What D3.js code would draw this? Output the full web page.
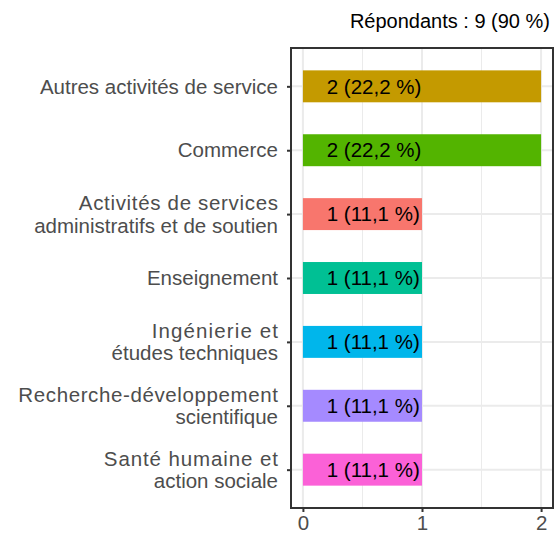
<!DOCTYPE html>
<html>
<head>
<meta charset="utf-8">
<script src="https://cdn.jsdelivr.net/npm/d3@7"></script>
<style>
  body { margin: 0; background: #fff; }
  text { font-family: "Liberation Sans", Arial, sans-serif; }
</style>
</head>
<body>
<script>
const categories = [
  "Autres activités de service",
  "Commerce",
  "Activités de services administratifs et de soutien",
  "Enseignement",
  "Ingénierie et études techniques",
  "Recherche-développement scientifique",
  "Santé humaine et action sociale"
];
const labelLines = [
  ["Autres activités de service"],
  ["Commerce"],
  ["Activités de services", "administratifs et de soutien"],
  ["Enseignement"],
  ["Ingénierie et", "études techniques"],
  ["Recherche-développement", "scientifique"],
  ["Santé humaine et", "action sociale"]
];
const counts = [2, 2, 1, 1, 1, 1, 1];
const percents = ["22,2", "22,2", "11,1", "11,1", "11,1", "11,1", "11,1"];
const colors = ["#C49A00", "#53B400", "#F8766D", "#00C094", "#00B6EB", "#A58AFF", "#FB61D7"];
const xTicks = [0, 1, 2];
const subtitle = "Répondants : 9 (90 %)";

const width = 555, height = 540;
const margin = {top: 48, left: 291, right: 2, bottom: 32};
const pw = width - margin.left - margin.right;
const ph = height - margin.top - margin.bottom;

const svg = d3.select("body").append("svg")
  .attr("width", width).attr("height", height);

const x = d3.scaleLinear().domain([-0.1, 2.1]).range([0, pw]);
const y = d3.scalePoint().domain(categories).range([0, ph]).padding(0.6);
const bandH = y.step() * 0.5;

const g = svg.append("g").attr("transform", `translate(${margin.left},${margin.top})`);

// grid
g.selectAll(".minor").data([0.5, 1.5]).enter().append("line")
  .attr("x1", d => x(d)).attr("x2", d => x(d)).attr("y1", 0).attr("y2", ph)
  .attr("stroke", "#ebebeb").attr("stroke-width", 1);
g.selectAll(".major").data(xTicks).enter().append("line")
  .attr("x1", d => x(d)).attr("x2", d => x(d)).attr("y1", 0).attr("y2", ph)
  .attr("stroke", "#ebebeb").attr("stroke-width", 2);
g.selectAll(".hgrid").data(categories).enter().append("line")
  .attr("x1", 0).attr("x2", pw).attr("y1", d => y(d)).attr("y2", d => y(d))
  .attr("stroke", "#ebebeb").attr("stroke-width", 2);

// bars
g.selectAll(".bar").data(categories).enter().append("rect")
  .attr("x", x(0))
  .attr("y", d => y(d) - bandH / 2)
  .attr("width", (d, i) => x(counts[i]) - x(0))
  .attr("height", bandH)
  .attr("fill", (d, i) => colors[i]);

g.selectAll(".blabel").data(categories).enter().append("text")
  .attr("x", x(0.2))
  .attr("y", d => y(d))
  .attr("dy", "0.35em")
  .attr("font-size", 20.5)
  .attr("fill", "#000")
  .text((d, i) => `${counts[i]} (${percents[i]} %)`);

// border
g.append("rect").attr("width", pw).attr("height", ph)
  .attr("fill", "none").attr("stroke", "#333").attr("stroke-width", 2);

// y axis
const yAxis = g.append("g")
  .call(d3.axisLeft(y).tickSize(4).tickPadding(4).tickFormat(""));
yAxis.select(".domain").remove();
yAxis.selectAll(".tick line").attr("stroke", "#333").attr("stroke-width", 2);

// category labels, one text per line, right-aligned
categories.forEach((d, i) => {
  const lines = labelLines[i];
  const lh = 22.5;
  lines.forEach((ln, k) => {
    const t = g.append("text")
      .attr("text-anchor", "end")
      .attr("font-size", 20.5)
      .attr("fill", "#4d4d4d")
      .attr("x", -13)
      .attr("y", y(d) + (k - (lines.length - 1) / 2) * lh)
      .attr("dy", "0.35em")
      .text(ln);
    if (lines.length > 1 && k === 0) {
      // first line of wrapped labels is set slightly looser in the original
      const len = t.node().getComputedTextLength();
      t.attr("textLength", len + 13.5).attr("lengthAdjust", "spacing");
    }
  });
});

// x axis
const xAxis = g.append("g").attr("transform", `translate(0,${ph})`)
  .call(d3.axisBottom(x).tickValues(xTicks).tickSize(4).tickPadding(3).tickFormat(d3.format("d")));
xAxis.select(".domain").remove();
xAxis.selectAll(".tick line").attr("stroke", "#333").attr("stroke-width", 2);
xAxis.selectAll(".tick text").attr("font-size", 20.5).attr("fill", "#4d4d4d")
  .attr("font-family", "Liberation Sans, Arial, sans-serif");

svg.append("text")
  .attr("x", 550).attr("y", 28)
  .attr("text-anchor", "end")
  .attr("font-size", 20)
  .attr("fill", "#000")
  .text(subtitle);
</script>
</body>
</html>
